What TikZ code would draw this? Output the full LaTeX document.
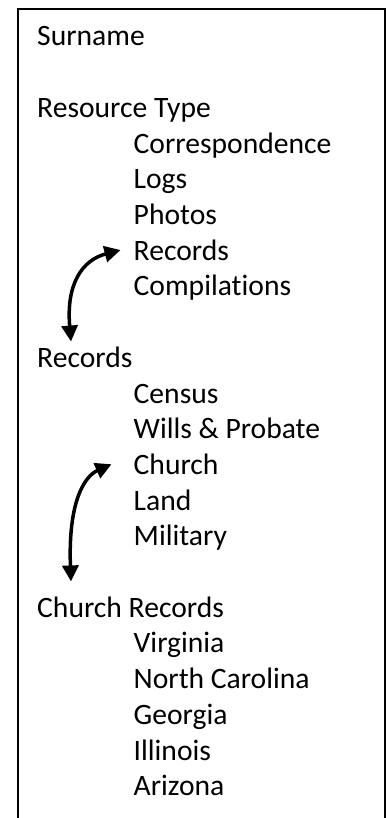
\documentclass[tikz,border=0pt]{standalone}
\usepackage{fontspec}
\setmainfont{Carlito}[Ligatures=NoCommon]
\usepackage{tikz}
\usetikzlibrary{arrows.meta}

\tikzset{
    head/.style={anchor=base west, inner sep=0pt, font=\fontsize{29.6}{35}\selectfont},
    item/.style={head},
    link/.style={line width=3.5pt, {Triangle[length=16pt,width=16pt]}-{Triangle[length=16pt,width=16pt]}}
}

\begin{document}
\begin{tikzpicture}[x=1pt,y=-1pt]
        \useasboundingbox (0,0) rectangle (386,818);
        \draw[line width=2pt, line join=miter] (18,818) -- (18,9) -- (385,9) -- (385,818);

        \node[head] (surname) at (37,46) {Surname};

        \node[head] (restype) at (37,117.4) {Resource Type};
        \node[item] (corr) at (133.5,153.1) {Correspondence};
        \node[item] (logs) at (133.5,188.8) {Logs};
        \node[item] (photos) at (133.5,224.5) {Photos};
        \node[item] (recs) at (133.5,260.2) {Records};
        \node[item] (comp) at (133.5,295.9) {Compilations};

        \node[head] (records) at (37,367.3) {Records};
        \node[item] (census) at (133.5,403) {Census};
        \node[item] (wills) at (133.5,438.7) {Wills \& Probate};
        \node[item] (church) at (133.5,474.4) {Church};
        \node[item] (land) at (133.5,510.1) {Land};
        \node[item] (military) at (133.5,545.8) {Military};

        \node[head] (churchrec) at (37,617.2) {Church Records};
        \node[item] (virginia) at (133.5,652.9) {Virginia};
        \node[item] (ncarolina) at (133.5,688.6) {North Carolina};
        \node[item] (georgia) at (133.5,724.3) {Georgia};
        \node[item] (illinois) at (133.5,760) {Illinois};
        \node[item] (arizona) at (133.5,795.7) {Arizona};

        % curved links
        \draw[link] ([xshift=-13pt]recs.west) .. controls +(-38,10) and +(-5,-58) .. ([xshift=34pt,yshift=5pt]records.north west);
        \draw[link] ([xshift=-22pt]church.west) .. controls +(-27,12) and +(-3,-80) .. ([xshift=34pt,yshift=15pt]churchrec.north west);
    \end{tikzpicture}
\end{document}
